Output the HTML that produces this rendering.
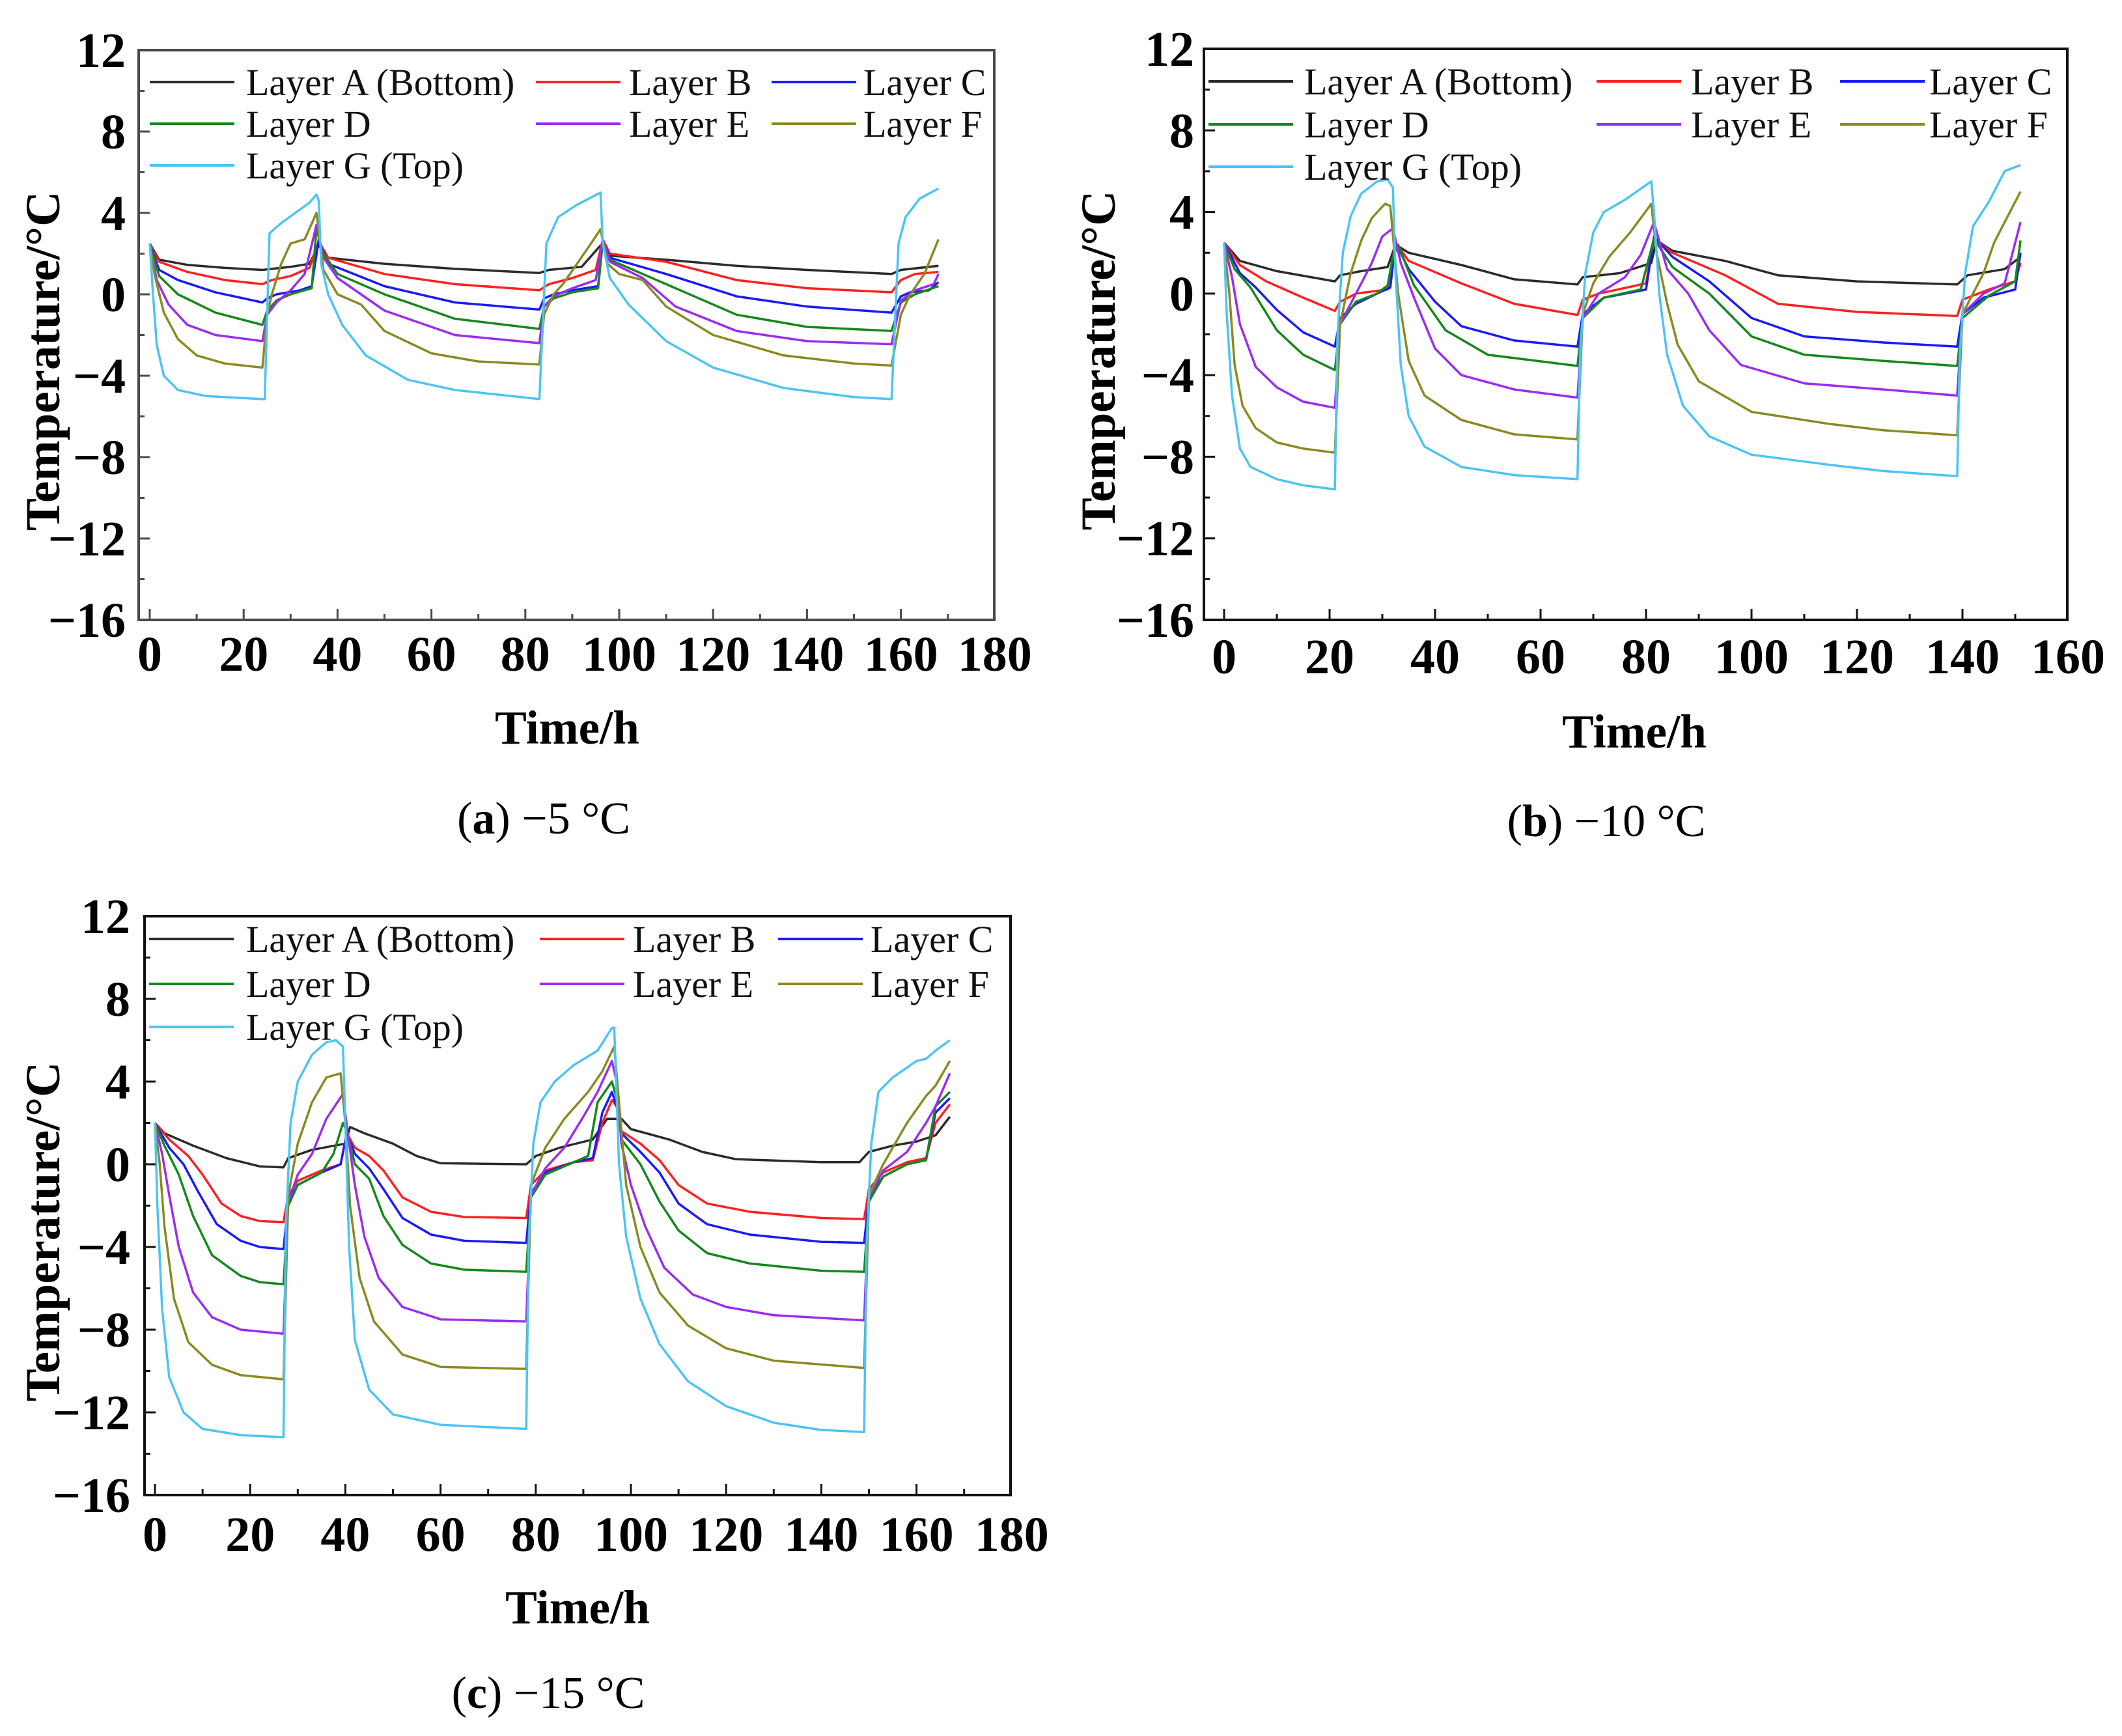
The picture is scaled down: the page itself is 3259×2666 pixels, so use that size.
<!DOCTYPE html>
<html><head><meta charset="utf-8">
<style>
html,body{margin:0;padding:0;background:#fff;}
svg{display:block;}
text{font-family:"Liberation Serif",serif;}
</style></head>
<body>
<svg id="fig" width="3259" height="2666" viewBox="0 0 3259 2666" xmlns="http://www.w3.org/2000/svg"></svg>
<script>
// ---------- data: panel (a) -5 °C ----------
const aA=[[0,2.5],[2,1.7],[8,1.45],[16,1.3],[24,1.2],[26,1.25],[30,1.35],[34,1.5],[36,2.4],[38,1.8],[50,1.5],[65,1.25],[83,1.05],[85,1.2],[92,1.35],[96,2.4],[98,1.9],[110,1.7],[125,1.4],[140,1.2],[158,1.0],[160,1.2],[168,1.4]];
const aB=[[0,2.5],[2,1.6],[8,1.1],[16,0.7],[24,0.5],[26,0.7],[30,0.9],[34,1.3],[36,2.6],[38,1.8],[50,1.0],[65,0.5],[83,0.2],[85,0.5],[90,0.8],[95,1.2],[96.5,2.7],[98,2.0],[110,1.6],[125,0.7],[140,0.3],[158,0.1],[160,0.7],[163,1.0],[168,1.1]];
const aC=[[0,2.5],[2,1.2],[6,0.7],[14,0.1],[24,-0.4],[25,-0.2],[27,0],[32,0.2],[34.5,0.4],[36,2.7],[38,1.5],[50,0.4],[65,-0.4],[83,-0.75],[84,-0.2],[86,0],[90,0.2],[95.5,0.4],[96.5,2.6],[98,1.8],[110,1.0],[125,-0.1],[140,-0.6],[158,-0.9],[160,-0.1],[162,0.1],[166,0.2],[168,0.6]];
const aD=[[0,2.5],[2,0.9],[6,0],[14,-0.9],[24,-1.5],[25,-0.8],[27,-0.3],[30,0],[34.5,0.3],[35.5,3.2],[37,2],[40,1],[50,0],[65,-1.2],[83,-1.7],[84,-0.6],[86,-0.2],[90,0.1],[95.5,0.3],[96.5,2.6],[98,1.7],[110,0.5],[125,-1.0],[140,-1.6],[158,-1.8],[160,-0.4],[163,0],[168,0.4]];
const aE=[[0,2.5],[1.5,0.7],[4,-0.5],[8,-1.5],[14,-2.0],[24,-2.3],[25,-1],[27,-0.4],[30,0.2],[33,1.0],[35.5,3.4],[37,1.8],[40,0.8],[50,-0.8],[65,-2.0],[83,-2.4],[84,-0.6],[86,-0.1],[90,0.3],[95,0.7],[96.5,2.7],[98,1.6],[105,0.8],[112,-0.6],[125,-1.8],[140,-2.3],[158,-2.45],[160,-0.3],[163,0.2],[167,0.5],[168,1.0]];
const aF=[[0,2.5],[1,1],[3,-0.9],[6,-2.2],[10,-3.0],[16,-3.4],[24,-3.6],[25,-1],[26,0],[28,1.5],[30,2.5],[33,2.7],[35.5,4.0],[37,1.2],[40,0],[45,-0.5],[50,-1.8],[60,-2.9],[70,-3.3],[83,-3.45],[84,-1],[86,0],[88,0.5],[91,1.5],[94,2.5],[96,3.2],[97.5,1.5],[100,1.0],[105,0.7],[110,-0.6],[120,-2.0],[135,-3.0],[150,-3.4],[158,-3.5],[160,-1.0],[162,0],[165,1.0],[168,2.7]];
const aG=[[0,2.5],[0.7,0],[1.5,-2.5],[3,-4],[6,-4.7],[12,-5.0],[24,-5.15],[24.5,-5.15],[25.5,3.0],[28,3.5],[31,4.0],[34,4.5],[35.5,4.9],[36,4.6],[36.5,1.5],[38,0],[41,-1.5],[46,-3],[55,-4.2],[65,-4.7],[83,-5.15],[84.5,2.5],[87,3.8],[91,4.4],[96,5.0],[96.5,2.5],[98,0.8],[102,-0.5],[110,-2.3],[120,-3.6],[135,-4.6],[150,-5.05],[158,-5.15],[159.5,2.5],[161,3.8],[164,4.7],[168,5.2]];
// ---------- data: panel (b) -10 °C ----------
const bA=[[0,2.5],[3,1.6],[10,1.1],[21,0.6],[22,0.9],[26,1.1],[31,1.3],[32.5,2.4],[35,2.0],[45,1.4],[55,0.7],[67,0.45],[68,0.8],[75,1.0],[81,1.5],[82,2.6],[85,2.1],[95,1.6],[105,0.9],[120,0.6],[139,0.45],[141,0.9],[148,1.2],[151,1.8]];
const bB=[[0,2.5],[3,1.4],[8,0.6],[15,-0.2],[21,-0.85],[22,-0.4],[25,0],[31,0.2],[32.5,2.5],[35,1.6],[45,0.5],[55,-0.5],[67,-1.05],[68,-0.3],[71,0],[80,0.5],[81.5,2.7],[85,2.0],[95,0.9],[105,-0.5],[120,-0.9],[139,-1.1],[140,-0.3],[145,0.2],[150,0.6],[151,1.5]];
const bC=[[0,2.5],[3,1],[6,0.3],[10,-0.8],[15,-1.9],[21,-2.6],[22,-1.2],[25,-0.5],[29,0],[31.5,0.3],[32.5,2.5],[35,1.2],[40,-0.4],[45,-1.6],[55,-2.3],[67,-2.6],[68,-1.0],[72,-0.2],[80,0.2],[81.5,2.8],[85,1.8],[92,0.6],[100,-1.2],[110,-2.1],[125,-2.4],[139,-2.6],[140,-1.0],[144,-0.2],[150,0.2],[151,2.0]];
const bD=[[0,2.5],[2,1.2],[5,0.3],[10,-1.8],[15,-3.0],[21,-3.75],[22,-1.5],[25,-0.4],[29,0],[31,0.4],[32,1.8],[33,2.4],[36,0.4],[42,-1.8],[50,-3],[67,-3.55],[68,-1.2],[72,-0.2],[79,0.2],[81.5,2.7],[85,1.3],[92,0],[100,-2.1],[110,-3.0],[125,-3.3],[139,-3.55],[140,-1.2],[145,-0.1],[150,0.6],[151,2.6]];
const bE=[[0,2.5],[1.5,0.8],[3,-1.5],[6,-3.6],[10,-4.6],[15,-5.3],[21,-5.6],[22,-1.5],[25,0],[28,1.5],[30,2.8],[32,3.2],[33.5,1.5],[36,-0.2],[40,-2.7],[45,-4.0],[55,-4.7],[67,-5.1],[68,-1.2],[71,0],[76,0.8],[79,1.9],[81.5,3.5],[84,1.2],[88,0],[92,-1.8],[98,-3.5],[110,-4.4],[125,-4.7],[139,-5.0],[140,-1],[144,0],[148,0.5],[151,3.5]];
const bF=[[0,2.5],[1,0],[2,-3.5],[3.5,-5.5],[6,-6.6],[10,-7.3],[15,-7.6],[21,-7.8],[22,-1.5],[24,1],[26,2.6],[28,3.7],[30.5,4.4],[31.5,4.3],[33,0],[35,-3.3],[38,-5],[45,-6.2],[55,-6.9],[67,-7.15],[68,-1],[70,0.5],[73,1.8],[77,3.0],[81,4.4],[82,2],[84,-0.5],[86,-2.5],[90,-4.3],[100,-5.8],[115,-6.4],[125,-6.7],[139,-6.95],[140,-1],[144,1],[146,2.5],[148,3.5],[151,5.0]];
const bG=[[0,2.5],[0.5,-1],[1.5,-5],[3,-7.6],[5,-8.5],[10,-9.1],[15,-9.4],[21,-9.6],[21.5,-2],[22.5,2],[24,3.8],[26,4.9],[29,5.5],[31,5.6],[32,5.2],[32.5,1],[33.5,-3.5],[35,-6],[38,-7.5],[45,-8.5],[55,-8.9],[67,-9.1],[67.5,-3],[68.5,1],[70,3],[72,4.0],[76,4.6],[81,5.5],[81.5,4],[82.5,0],[84,-3],[87,-5.5],[92,-7],[100,-7.9],[115,-8.4],[125,-8.7],[139,-8.95],[139.5,-3],[140.5,1],[142,3.3],[145,4.5],[148,6.0],[151,6.3]];
// ---------- data: panel (c) -15 °C ----------
const cA=[[0,2.0],[2,1.5],[8,0.9],[15,0.3],[22,-0.1],[27,-0.15],[28,0.3],[33,0.7],[40,1.0],[41,1.8],[44,1.5],[50,1.0],[55,0.4],[60,0.05],[78,0],[80,0.4],[85,0.8],[92,1.2],[95,2.2],[98,2.2],[100,1.7],[108,1.2],[115,0.6],[122,0.25],[140,0.1],[148,0.1],[150,0.6],[155,0.9],[160,1.1],[164,1.4],[167,2.3]];
const cB=[[0,2.0],[3,1.2],[7,0.4],[10,-0.5],[14,-1.9],[18,-2.5],[22,-2.75],[27,-2.8],[28,-1.5],[30,-0.8],[35,-0.3],[39,0],[40.3,1.5],[42,0.8],[45,0.4],[48,-0.3],[52,-1.6],[58,-2.3],[65,-2.55],[78,-2.6],[79,-1],[82,-0.3],[88,0.1],[92,0.2],[94,2.0],[96,3.1],[97,2.8],[98,1.6],[102,1.0],[106,0.2],[110,-1],[116,-1.9],[125,-2.3],[140,-2.6],[149,-2.65],[150,-1.2],[153,-0.4],[158,0.1],[162,0.3],[164,2],[167,2.9]];
const cC=[[0,2.0],[3,0.8],[6,0],[9,-1.3],[13,-2.9],[18,-3.7],[22,-4.0],[27,-4.1],[28,-1.8],[30,-1.0],[35,-0.4],[39,0],[40.3,1.5],[42,0.5],[45,-0.2],[48,-1.2],[52,-2.6],[58,-3.4],[65,-3.7],[78,-3.8],[79,-1.4],[82,-0.4],[88,0.1],[92,0.3],[94,2.5],[96,3.5],[97,2.8],[98,1.5],[102,0.6],[106,-0.4],[110,-1.9],[116,-2.9],[125,-3.4],[140,-3.75],[149,-3.8],[150,-1.6],[153,-0.6],[158,0],[162,0.2],[164,2.5],[167,3.2]];
const cD=[[0,2.0],[2,0.9],[5,-0.5],[8,-2.5],[12,-4.4],[18,-5.4],[22,-5.7],[27,-5.8],[28,-2],[30,-1.0],[35,-0.4],[37.5,0.5],[39.5,2.0],[40.5,1.5],[42,0],[45,-0.7],[48,-2.5],[52,-3.9],[58,-4.8],[65,-5.1],[78,-5.2],[79,-1.6],[82,-0.5],[88,0.1],[91,0.4],[93,3],[96,4.0],[97,3.2],[98,1.2],[102,0],[106,-1.8],[110,-3.2],[116,-4.3],[125,-4.8],[140,-5.15],[149,-5.2],[150,-1.8],[153,-0.6],[158,0],[162,0.2],[164,2.8],[167,3.5]];
const cE=[[0,2.0],[1.5,0.5],[3,-1.5],[5,-4],[8,-6.2],[12,-7.4],[18,-8.0],[27,-8.2],[28,-1.8],[30,-0.5],[33,0.5],[36,2.2],[39.5,3.4],[40.5,1.5],[42,-1],[44,-3.5],[47,-5.5],[52,-6.9],[60,-7.5],[78,-7.6],[79,-1.5],[82,-0.2],[86,0.8],[90,2.3],[93,3.5],[96,5.0],[97,4],[98,1],[100,-1],[103,-3],[107,-5],[113,-6.3],[120,-6.9],[130,-7.3],[149,-7.55],[150,-1.6],[153,-0.3],[158,0.6],[162,2.0],[164,2.8],[167,4.4]];
const cF=[[0,2.0],[1,0],[2,-3],[4,-6.5],[7,-8.6],[12,-9.7],[18,-10.2],[27,-10.4],[28,-1.5],[30,1],[33,3],[36,4.2],[39,4.4],[40,2],[41,-2],[43,-5.5],[46,-7.6],[52,-9.2],[60,-9.8],[78,-9.9],[79,-1],[82,0.8],[86,2.2],[91,3.5],[94,4.5],[96.5,5.7],[97.5,3],[99,-1],[102,-4],[106,-6.2],[112,-7.8],[120,-8.9],[130,-9.5],[149,-9.85],[150,-1.5],[153,0],[158,2],[162,3.3],[164,3.8],[167,5.0]];
const cG=[[0,2.0],[0.5,-2],[1.5,-7],[3,-10.3],[6,-12.0],[10,-12.8],[18,-13.1],[27,-13.2],[27.5,-3],[28.5,2],[30,4.0],[33,5.3],[36,5.9],[38,6.0],[39.5,5.7],[40,2],[40.8,-4],[42,-8.5],[45,-10.9],[50,-12.1],[60,-12.6],[78,-12.8],[78.5,-4],[79.5,1],[81,3.0],[84,4.0],[88,4.8],[93,5.5],[96,6.6],[96.5,6.6],[97.5,0],[99,-3.5],[102,-6.5],[106,-8.7],[112,-10.5],[120,-11.7],[130,-12.5],[140,-12.85],[149,-12.95],[149.5,-4],[150.5,1],[152,3.5],[155,4.2],[160,5.0],[162,5.1],[164,5.5],[167,6.0]];
const layerNames=["Layer A (Bottom)","Layer B","Layer C","Layer D","Layer E","Layer F","Layer G (Top)"];
const yTicks=[12,8,4,0,-4,-8,-12,-16];
const xTicksA=[0,20,40,60,80,100,120,140,160,180];
const xTicksB=[0,20,40,60,80,100,120,140,160];
const captionLetters=["a","b","c"];
const captionTemps=["\u22125 \u00B0C","\u221210 \u00B0C","\u221215 \u00B0C"];

const colors=["#2b2b2b","#ff2020","#1a1aff","#16881a","#9b2cf0","#8a8a22","#4cc4f5"];
const NS="http://www.w3.org/2000/svg";
const svg=document.getElementById('fig');
function el(tag,attrs,parent){const e=document.createElementNS(NS,tag);for(const k in attrs)e.setAttribute(k,attrs[k]);(parent||svg).appendChild(e);return e;}

const panels=[
 {id:"a",series:[aA,aB,aC,aD,aE,aF,aG],xt:xTicksA,xmax:180,L:213,R:1527,T:77,B:952,x0:230,pxh:7.21,axc:"#4a4a4a",
  tickR:193,xLabY:1030,titleX:871,titleY:1142,ytX:66,capX:835,capY:1280,
  leg:{rows:[126,190,254],lineX:[230,823,1185],textX:[378,966,1326]}},
 {id:"b",series:[bA,bB,bC,bD,bE,bF,bG],xt:xTicksB,xmax:160,L:1849,R:3175,T:75,B:952,x0:1880,pxh:8.1,axc:"#111",
  tickR:1834,xLabY:1034,titleX:2510,titleY:1148,ytX:1687,capX:2467,capY:1284,
  leg:{rows:[125,191,256],lineX:[1856,2452,2826],textX:[2003,2597,2963]}},
 {id:"c",series:[cA,cB,cC,cD,cE,cF,cG],xt:xTicksA,xmax:180,L:222,R:1552,T:1407,B:2296,x0:238,pxh:7.31,axc:"#111",
  tickR:200,xLabY:2382,titleX:887,titleY:2493,ytX:66,capX:842,capY:2623,
  leg:{rows:[1442,1511,1577],lineX:[229,829,1195],textX:[378,972,1337]}}
];

panels.forEach((p,pi)=>{
  const g=el('g',{});
  
  
  const yu=(p.B-p.T)/28;
  const X=t=>p.x0+t*p.pxh;
  const Y=v=>p.T+(12-v)*yu;
  const cp=el('clipPath',{id:'clip'+p.id},g);
  el('rect',{x:p.L,y:p.T,width:p.R-p.L,height:p.B-p.T},cp);
  p.series.forEach((s,si)=>{
    const d=s.map((pt,i)=>(i?'L':'M')+X(pt[0]).toFixed(1)+' '+Y(pt[1]).toFixed(1)).join(' ');
    const path=el('path',{d:d,fill:'none',stroke:colors[si],'stroke-width':3.5,'stroke-linejoin':'round','clip-path':'url(#clip'+p.id+')'},g);
    
    
  });
  const fr=el('rect',{x:p.L,y:p.T,width:p.R-p.L,height:p.B-p.T,fill:'none',stroke:p.axc,'stroke-width':4},g);
  
  
  for(let t=0;t<=p.xmax-10+0.01;t+=10){
    const major=t%20===0;
    el('line',{x1:X(t),x2:X(t),y1:p.B,y2:p.B-(major?17:9),stroke:p.axc,'stroke-width':3},g);
  }
  p.xt.forEach(t=>{
    const tx=el('text',{x:X(t),y:p.xLabY,'text-anchor':'middle','font-size':76,'font-weight':'bold',fill:'#000'},g);
    tx.textContent=t;
    
    
  });
  for(let v=-14;v<=10;v+=2){
    const major=v%4===0;
    el('line',{x1:p.L,x2:p.L+(major?17:9),y1:Y(v),y2:Y(v),stroke:p.axc,'stroke-width':3},g);
  }
  yTicks.forEach(v=>{
    const tx=el('text',{x:p.tickR,y:Y(v)+26,'text-anchor':'end','font-size':76,'font-weight':'bold',fill:'#000'},g);
    tx.textContent=(v<0?'\u2212':'')+Math.abs(v);
    
    
  });
  const xt=el('text',{x:p.titleX,y:p.titleY,'text-anchor':'middle','font-size':73,'font-weight':'bold'},g);
  xt.textContent='Time/h';
  
  
  const cy=(p.T+p.B)/2+40;
  const yt=el('text',{x:p.ytX,y:cy,'text-anchor':'middle','font-size':75,'font-weight':'bold',transform:'rotate(-90 '+p.ytX+' '+cy+') translate(0 25)'},g);
  yt.textContent='Temperature/\u00B0C';
  
  
  const lg=el('g',{},g);
  
  
  layerNames.forEach((n,i)=>{
    const row=Math.floor(i/3), col=i%3;
    const ry=p.leg.rows[row];
    const ent=el('g',{},lg);
    
    
    const lx=p.leg.lineX[col];
    el('line',{x1:lx,x2:lx+130,y1:ry,y2:ry,stroke:colors[i],'stroke-width':4},ent);
    const tt=el('text',{x:p.leg.textX[col],y:ry+20,'font-size':58,fill:'#111'},ent);
    tt.textContent=n;
  });
  const cap=el('text',{x:p.capX,y:p.capY,'text-anchor':'middle','font-size':70,fill:'#000'},g);
  
  
  const t1=el('tspan',{},cap); t1.textContent='(';
  const t2=el('tspan',{'font-weight':'bold'},cap); t2.textContent=captionLetters[pi];
  const t3=el('tspan',{},cap); t3.textContent=') '+captionTemps[pi];
});
</script>
</body></html>
